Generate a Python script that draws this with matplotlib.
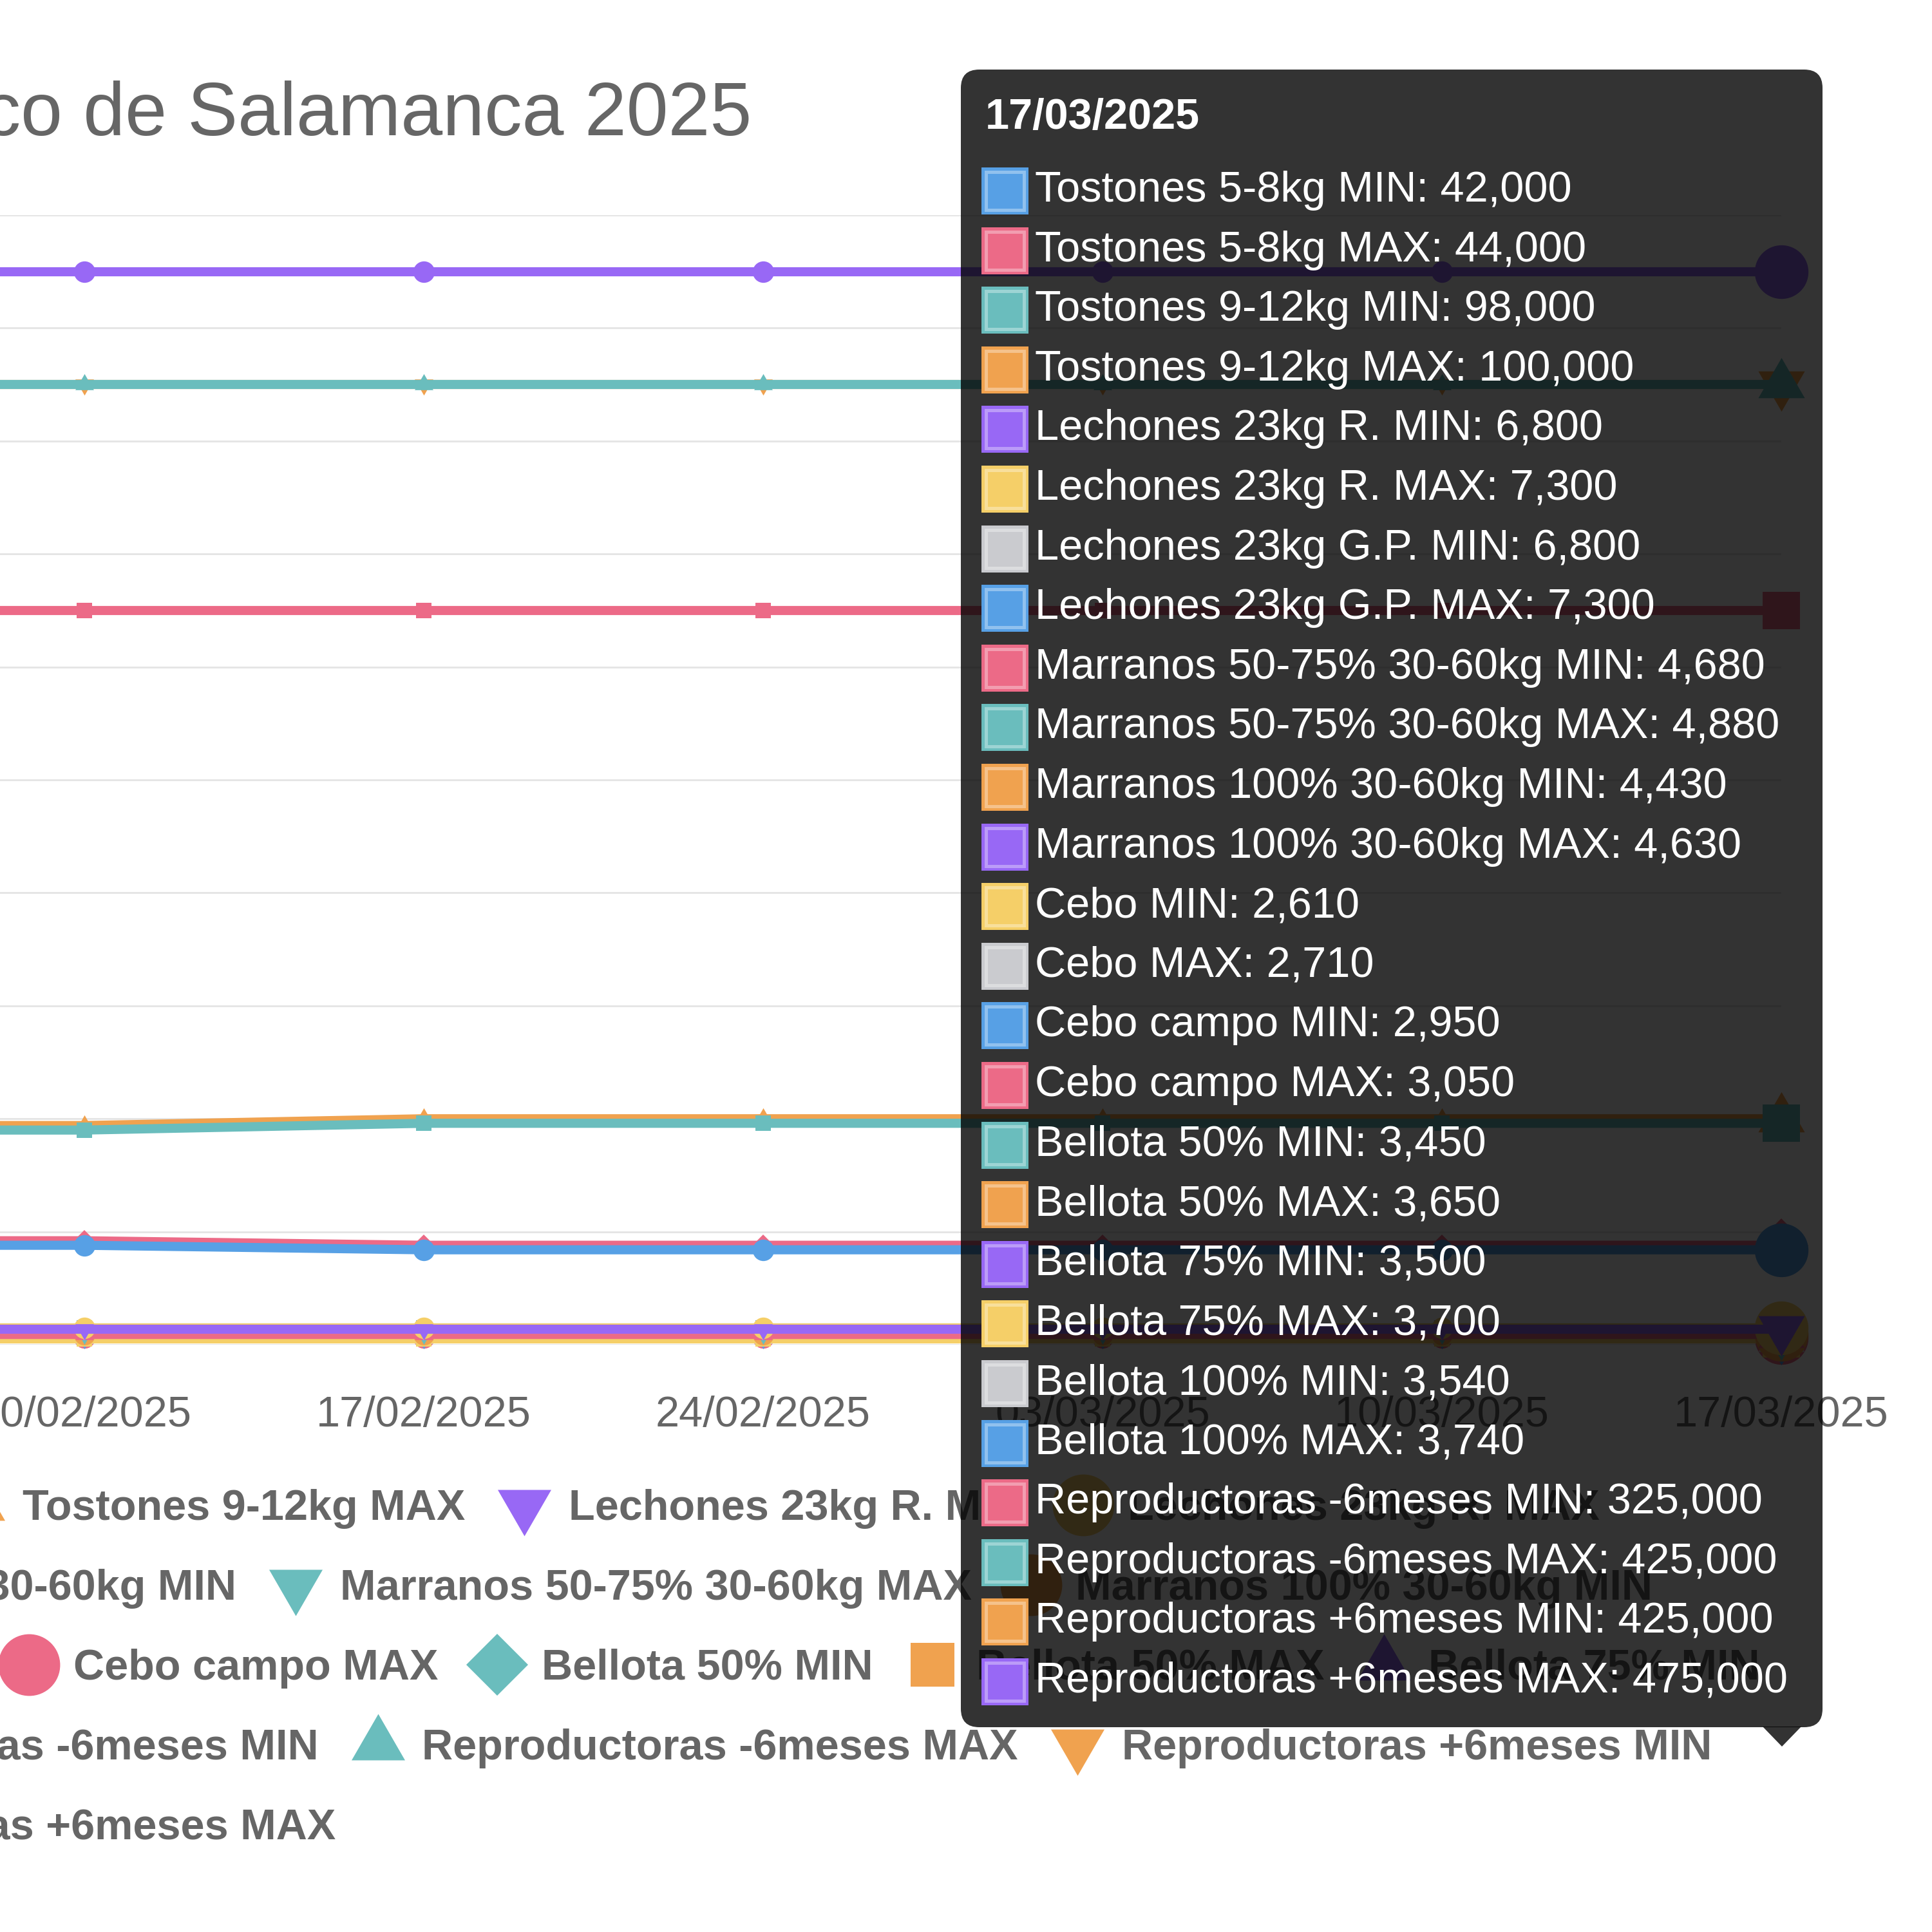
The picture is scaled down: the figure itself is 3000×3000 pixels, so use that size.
import matplotlib
matplotlib.use('Agg')
import matplotlib.pyplot as plt
from matplotlib.lines import Line2D
from matplotlib.patches import FancyBboxPatch, Rectangle, Polygon

plt.rcParams['font.family'] = ['Liberation Sans', 'DejaVu Sans']

# weekly quotes (euros), one list per series
fechas = ['03/02/2025', '10/02/2025', '17/02/2025', '24/02/2025',
          '03/03/2025', '10/03/2025', '17/03/2025']

tostones_58_min = [44000, 44000, 42000, 42000, 42000, 42000, 42000]
tostones_58_max = [46000, 46000, 44000, 44000, 44000, 44000, 44000]
tostones_912_min = [95000, 95000, 98000, 98000, 98000, 98000, 98000]
tostones_912_max = [97000, 97000, 100000, 100000, 100000, 100000, 100000]
lechones_r_min = [6800] * 7
lechones_r_max = [7300] * 7
lechones_gp_min = [6800] * 7
lechones_gp_max = [7300] * 7
marranos_5075_min = [4680] * 7
marranos_5075_max = [4880] * 7
marranos_100_min = [4430] * 7
marranos_100_max = [4630] * 7
cebo_min = [2610] * 7
cebo_max = [2710] * 7
cebo_campo_min = [2950] * 7
cebo_campo_max = [3050] * 7
bellota_50_min = [3450] * 7
bellota_50_max = [3650] * 7
bellota_75_min = [3500] * 7
bellota_75_max = [3700] * 7
bellota_100_min = [3540] * 7
bellota_100_max = [3740] * 7
repro_menos6_min = [325000] * 7
repro_menos6_max = [425000] * 7
repro_mas6_min = [425000] * 7
repro_mas6_max = [475000] * 7

nombres = ['Tostones 5-8kg MIN', 'Tostones 5-8kg MAX',
           'Tostones 9-12kg MIN', 'Tostones 9-12kg MAX',
           'Lechones 23kg R. MIN', 'Lechones 23kg R. MAX',
           'Lechones 23kg G.P. MIN', 'Lechones 23kg G.P. MAX',
           'Marranos 50-75% 30-60kg MIN', 'Marranos 50-75% 30-60kg MAX',
           'Marranos 100% 30-60kg MIN', 'Marranos 100% 30-60kg MAX',
           'Cebo MIN', 'Cebo MAX', 'Cebo campo MIN', 'Cebo campo MAX',
           'Bellota 50% MIN', 'Bellota 50% MAX',
           'Bellota 75% MIN', 'Bellota 75% MAX',
           'Bellota 100% MIN', 'Bellota 100% MAX',
           'Reproductoras -6meses MIN', 'Reproductoras -6meses MAX',
           'Reproductoras +6meses MIN', 'Reproductoras +6meses MAX']

valores = [tostones_58_min, tostones_58_max, tostones_912_min, tostones_912_max,
           lechones_r_min, lechones_r_max, lechones_gp_min, lechones_gp_max,
           marranos_5075_min, marranos_5075_max, marranos_100_min, marranos_100_max,
           cebo_min, cebo_max, cebo_campo_min, cebo_campo_max,
           bellota_50_min, bellota_50_max, bellota_75_min, bellota_75_max,
           bellota_100_min, bellota_100_max,
           repro_menos6_min, repro_menos6_max, repro_mas6_min, repro_mas6_max]

# chart.js-like palette (as it looks in the screenshot) and point styles
paleta = ['#57A0E5', '#EC6A87', '#6ABDBD', '#F0A24F', '#9868F5', '#F5CF68', '#CACBCF']
tri_up = [(0, 1), (-0.866, -0.5), (0.866, -0.5)]
tri_down = [(0, -1), (-0.866, 0.5), (0.866, 0.5)]
formas = [('o', 2.0), ('D', 1.414), ('s', 1.414), (tri_up, 2.0), (tri_down, 2.0)]

GRIS = '#666666'
W = 3000.0


def fx(px):
    return px / W


def fy(py):
    return 1 - py / W


fig = plt.figure(figsize=(10, 10), dpi=300)

# plot area: 03/02 sits off the left edge of the crop
ax = fig.add_axes([fx(-396), fy(2088), fx(2766 + 396), fy(334) - fy(2088)])
ax.set_xlim(0, len(fechas) - 1)
ax.set_ylim(0, 500000)
ax.set_yticks(range(0, 500001, 50000))
ax.set_xticks(range(len(fechas)))
ax.set_xticklabels(fechas)
ax.tick_params(axis='x', length=0, pad=19, labelsize=16, labelcolor=GRIS)
ax.tick_params(axis='y', length=0, labelleft=False)
ax.grid(axis='y', color='#e5e5e5', linewidth=0.7)
ax.set_axisbelow(True)
for s in ax.spines.values():
    s.set_visible(False)

x = list(range(len(fechas)))
n = len(nombres)
for i in range(n):
    col = paleta[i % 7]
    mk, k = formas[i % 5]
    z = 2 + (n - i) / 100.0
    ax.plot(x, valores[i], color=col, linewidth=3.4, marker=mk, markersize=4.0 * k,
            markeredgewidth=0, zorder=z, clip_on=False)
    # hovered point at 17/03
    ax.plot(x[-1], valores[i][-1], linestyle='none', marker=mk, color=col,
            markersize=10.0 * k, markeredgewidth=0, zorder=z, clip_on=False)

fig.text(fx(1167), fy(210), 'Precios Porcino Ibérico de Salamanca 2025',
         ha='right', va='baseline', fontsize=28, color=GRIS)

# legend, centred rows like chart.js
filas = [(0, 6), (6, 11), (11, 19), (19, 25), (25, 26)]
fila_y = [2343, 2467, 2591, 2715, 2839]
centro = fx(-8)
for (a, b), yy in zip(filas, fila_y):
    handles = []
    for i in range(a, b):
        mk, k = formas[i % 5]
        handles.append(Line2D([], [], linestyle='none', marker=mk, color=paleta[i % 7],
                              markersize=11.5 * k, markeredgewidth=0))
    leg = fig.legend(handles, nombres[a:b], loc='center', bbox_to_anchor=(centro, fy(yy)),
                     ncol=b - a, frameon=False, borderaxespad=0, borderpad=0,
                     handlelength=1.44, handletextpad=0.31, columnspacing=0.66,
                     prop={'family': 'Liberation Sans', 'weight': 'bold', 'size': 16},
                     labelcolor=GRIS)
    leg.set_zorder(5)

# tooltip
caja = FancyBboxPatch((fx(1492), fy(2682)), fx(2830 - 1492), fy(108) - fy(2682),
                      boxstyle='round,pad=0,rounding_size=0.0095',
                      transform=fig.transFigure, facecolor='black', alpha=0.8,
                      edgecolor='none', zorder=10)
fig.add_artist(caja)
pico = Polygon([(fx(2737), fy(2681)), (fx(2797), fy(2681)), (fx(2767), fy(2712))],
               closed=True, transform=fig.transFigure, facecolor='black', alpha=0.8,
               edgecolor='none', zorder=10)
fig.add_artist(pico)

fig.text(fx(1530), fy(200), fechas[-1], ha='left', va='baseline', fontsize=16,
         fontweight='bold', color='white', zorder=12)
paso = 92.6
for i in range(n):
    col = paleta[i % 7]
    top = 260 + paso * i
    fig.add_artist(Rectangle((fx(1524), fy(top + 73)), fx(73), fy(top) - fy(top + 73),
                             transform=fig.transFigure, facecolor=col, edgecolor='none',
                             zorder=11))
    fig.add_artist(Rectangle((fx(1531), fy(top + 66)), fx(59), fy(top + 7) - fy(top + 66),
                             transform=fig.transFigure, facecolor=col,
                             edgecolor=(1, 1, 1, 0.35), linewidth=1.2, zorder=11))
    fig.text(fx(1607), fy(313 + paso * i), f'{nombres[i]}: {valores[i][-1]:,}',
             ha='left', va='baseline', fontsize=16, color='white', zorder=12)

fig.savefig('out.png', dpi=300)
